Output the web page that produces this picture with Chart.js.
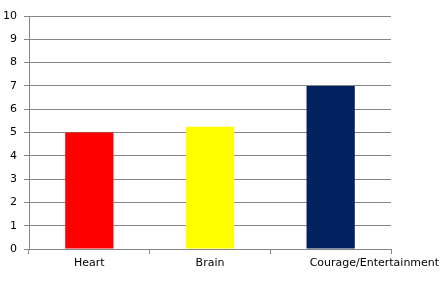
<!DOCTYPE html>
<html>
<head>
<meta charset="utf-8">
<script src="https://cdn.jsdelivr.net/npm/chart.js@4"></script>
<style>
  html, body { margin: 0; padding: 0; background: #fff; }
  #wrap { width: 443px; height: 291px; }
</style>
</head>
<body>
<div id="wrap"><canvas id="chart" width="443" height="291"></canvas></div>
<script>
const categories = ['Heart', 'Brain', 'Courage/Entertainment'];
const values = [5, 5.25, 7];
const barColors = ['#ff0000', '#ffff00', '#00215e'];
const yTicks = [0, 1, 2, 3, 4, 5, 6, 7, 8, 9, 10];

const gridColor = '#868686';

// the long last label starts a bit left of its category centre and runs past the plot
const shiftLastLabel = {
    id: 'shiftLastLabel',
    beforeDraw(chart) {
        const x = chart.scales.x;
        const items = x.getLabelItems();
        const last = items[items.length - 1];
        if (!last) return;
        last.options.textAlign = 'left';
        last.options.translation[0] = x.getPixelForTick(items.length - 1) - 21;
    }
};

new Chart(document.getElementById('chart').getContext('2d'), {
    type: 'bar',
    data: {
        labels: categories,
        datasets: [{
            data: values,
            backgroundColor: barColors,
            borderWidth: 0,
            barPercentage: 0.4,
            categoryPercentage: 1
        }]
    },
    options: {
        responsive: false,
        animation: false,
        layout: {
            padding: { top: 16, right: 52, left: 0, bottom: 0 }
        },
        plugins: {
            legend: { display: false },
            tooltip: { enabled: false }
        },
        scales: {
            x: {
                offset: true,
                grid: {
                    offset: true,
                    drawOnChartArea: false,
                    drawTicks: true,
                    tickLength: 5,
                    color: gridColor
                },
                border: { color: gridColor },
                ticks: {
                    color: '#000',
                    font: { family: 'DejaVu Sans', size: 11 },
                    maxRotation: 0,
                    autoSkip: false,
                    padding: 3
                },
                afterFit: scale => {
                    scale.height = 42;
                    scale.paddingLeft = 0;
                    scale.paddingRight = 0;
                }
            },
            y: {
                min: yTicks[0],
                max: yTicks[yTicks.length - 1],
                afterBuildTicks: scale => {
                    scale.ticks = yTicks.map(v => ({ value: v }));
                },
                grid: {
                    color: gridColor,
                    tickLength: 5
                },
                border: { color: gridColor },
                ticks: {
                    color: '#000',
                    font: { family: 'DejaVu Sans', size: 11 },
                    padding: 7
                },
                afterFit: scale => {
                    scale.width = 29;
                }
            }
        }
    },
    plugins: [shiftLastLabel]
});
</script>
</body>
</html>
